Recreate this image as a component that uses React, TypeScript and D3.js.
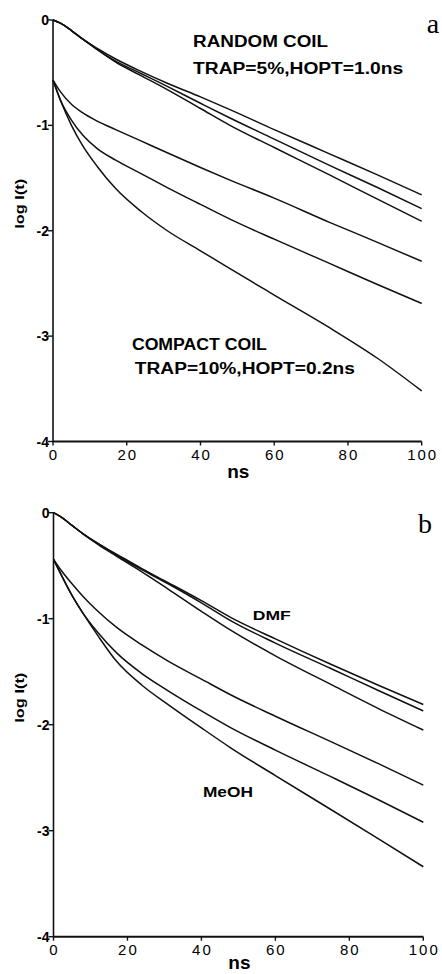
import React, { useEffect, useRef } from "react";
import * as d3 from "d3";

const nsPoints = [0, 2, 5, 8, 12, 17, 24, 31, 40, 48, 60, 75, 88, 100];

// panel a: random coil (upper three) and compact coil (lower three), log I(t)
const randomCoil = [
  [0, -0.03, -0.1, -0.18, -0.27, -0.37, -0.49, -0.6, -0.73, -0.85, -1.04, -1.27, -1.47, -1.66],
  [0, -0.03, -0.1, -0.18, -0.28, -0.39, -0.51, -0.63, -0.79, -0.93, -1.13, -1.38, -1.59, -1.79],
  [0, -0.03, -0.1, -0.18, -0.28, -0.4, -0.53, -0.66, -0.84, -1.0, -1.21, -1.47, -1.7, -1.91],
];
const compactCoil = [
  [-0.57, -0.68, -0.8, -0.88, -0.96, -1.04, -1.15, -1.26, -1.4, -1.52, -1.69, -1.92, -2.11, -2.29],
  [-0.57, -0.76, -0.95, -1.09, -1.22, -1.33, -1.46, -1.59, -1.75, -1.89, -2.08, -2.31, -2.51, -2.69],
  [-0.57, -0.76, -1.0, -1.19, -1.39, -1.6, -1.82, -2.0, -2.19, -2.36, -2.61, -2.92, -3.21, -3.52],
];

// panel b: DMF (upper three) and MeOH (lower three)
const dmfCurves = [
  [0, -0.04, -0.12, -0.2, -0.29, -0.39, -0.53, -0.66, -0.83, -0.99, -1.19, -1.43, -1.63, -1.81],
  [0, -0.04, -0.12, -0.2, -0.29, -0.4, -0.54, -0.67, -0.85, -1.02, -1.23, -1.47, -1.68, -1.87],
  [0, -0.04, -0.12, -0.2, -0.3, -0.41, -0.56, -0.72, -0.93, -1.11, -1.35, -1.62, -1.85, -2.05],
];
const meohCurves = [
  [-0.44, -0.54, -0.67, -0.79, -0.93, -1.08, -1.25, -1.4, -1.57, -1.72, -1.92, -2.16, -2.37, -2.57],
  [-0.44, -0.58, -0.78, -0.95, -1.13, -1.32, -1.52, -1.68, -1.87, -2.03, -2.24, -2.49, -2.71, -2.92],
  [-0.44, -0.58, -0.78, -0.95, -1.16, -1.4, -1.63, -1.81, -2.03, -2.22, -2.48, -2.8, -3.08, -3.34],
];

const yTicks = [0, -1, -2, -3, -4];
const xTicks = [0, 20, 40, 60, 80, 100];

const sans = "'Liberation Sans', Arial, sans-serif";
const serif = "'Liberation Serif', 'Times New Roman', serif";

type Note = { text: string; x: number; y: number; size: number; len?: number; serif?: boolean };

const Panel = ({ curves, box, notes, xLabelGap }: { curves: number[][]; box: number[]; notes: Note[]; xLabelGap: number }) => {
  const ref = useRef<SVGGElement>(null);

  useEffect(() => {
    const g = d3.select(ref.current);
    g.selectAll("*").remove();
    const [left, right, top, bottom] = box;

    const x = d3.scaleLinear().domain([0, 100]).range([left, right]);
    const y = d3.scaleLinear().domain([0, -4]).range([top, bottom]);

    const line = d3
      .line<number>()
      .x((_, i) => x(nsPoints[i]))
      .y((d) => y(d))
      .curve(d3.curveMonotoneX);

    g.append("g")
      .selectAll("path")
      .data(curves)
      .join("path")
      .attr("d", (d) => line(d))
      .attr("fill", "none")
      .attr("stroke", "#111")
      .attr("stroke-width", 1.5);

    // y axis
    g.append("line")
      .attr("x1", left).attr("x2", left)
      .attr("y1", top).attr("y2", bottom)
      .attr("stroke", "#111").attr("stroke-width", 1.6);
    g.append("g")
      .selectAll("line")
      .data(yTicks)
      .join("line")
      .attr("x1", left - 5).attr("x2", left)
      .attr("y1", (d) => y(d)).attr("y2", (d) => y(d))
      .attr("stroke", "#111").attr("stroke-width", 1.4);
    g.append("g")
      .selectAll("text")
      .data(yTicks)
      .join("text")
      .attr("x", left - 4)
      .attr("y", (d) => y(d))
      .attr("dy", "0.36em")
      .attr("text-anchor", "end")
      .attr("font-family", sans)
      .attr("font-weight", "bold")
      .attr("font-size", 14)
      .text((d) => (d === 0 ? "0" : `-${Math.abs(d)}`));

    // x axis
    g.append("line")
      .attr("x1", left).attr("x2", right)
      .attr("y1", bottom).attr("y2", bottom)
      .attr("stroke", "#111").attr("stroke-width", 2);
    g.append("g")
      .selectAll("line")
      .data(xTicks)
      .join("line")
      .attr("x1", (d) => x(d)).attr("x2", (d) => x(d))
      .attr("y1", bottom).attr("y2", bottom + 4)
      .attr("stroke", "#111").attr("stroke-width", 1.4);
    g.append("g")
      .selectAll("text")
      .data(xTicks)
      .join("text")
      .attr("x", (d) => x(d) + 1)
      .attr("y", bottom + 18)
      .attr("text-anchor", "middle")
      .attr("font-family", sans)
      .attr("font-size", 15)
      .attr("letter-spacing", 2)
      .text((d) => d);

    g.append("text")
      .attr("x", x(50) + 1)
      .attr("y", bottom + xLabelGap)
      .attr("text-anchor", "middle")
      .attr("font-family", sans)
      .attr("font-weight", "bold")
      .attr("font-size", 19)
      .text("ns");

    g.append("text")
      .attr("transform", `translate(24, ${(top + bottom) / 2 - 27}) rotate(-90)`)
      .attr("text-anchor", "middle")
      .attr("font-family", sans)
      .attr("font-weight", "bold")
      .attr("font-size", 13)
      .attr("textLength", 50)
      .attr("lengthAdjust", "spacingAndGlyphs")
      .text("log I(t)");

    // annotations, placed in data units
    notes.forEach((n) => {
      const t = g.append("text")
        .attr("x", x(n.x))
        .attr("y", y(n.y))
        .attr("font-family", n.serif ? serif : sans)
        .attr("font-weight", n.serif ? "normal" : "bold")
        .attr("font-size", n.size)
        .text(n.text);
      if (n.len) t.attr("textLength", n.len).attr("lengthAdjust", "spacingAndGlyphs");
    });
  }, [curves, box, notes, xLabelGap]);

  return <g ref={ref} />;
};

const notesA: Note[] = [
  { text: "a", x: 101.4, y: -0.12, size: 28, serif: true },
  { text: "RANDOM COIL", x: 38, y: -0.26, size: 16, len: 135 },
  { text: "TRAP=5%,HOPT=1.0ns", x: 38, y: -0.51, size: 16, len: 210 },
  { text: "COMPACT COIL", x: 21.4, y: -3.13, size: 16, len: 135 },
  { text: "TRAP=10%,HOPT=0.2ns", x: 22.2, y: -3.36, size: 16, len: 220 },
];
const notesB: Note[] = [
  { text: "b", x: 98.6, y: -0.19, size: 28, serif: true },
  { text: "DMF", x: 53.9, y: -1.01, size: 13, len: 38 },
  { text: "MeOH", x: 40.4, y: -2.68, size: 14, len: 50 },
];

const curvesA = [...randomCoil, ...compactCoil];
const curvesB = [...dmfCurves, ...meohCurves];
const boxA = [53, 421.7, 20, 441.5];
const boxB = [53.5, 423.3, 512.7, 936.7];

export default function App() {
  return (
    <div style={{ position: "absolute", left: 0, top: 0 }}>
      <svg width={442} height={974} style={{ display: "block", background: "#fff" }}>
        <Panel curves={curvesA} box={boxA} notes={notesA} xLabelGap={36} />
        <Panel curves={curvesB} box={boxB} notes={notesB} xLabelGap={32} />
      </svg>
    </div>
  );
}
